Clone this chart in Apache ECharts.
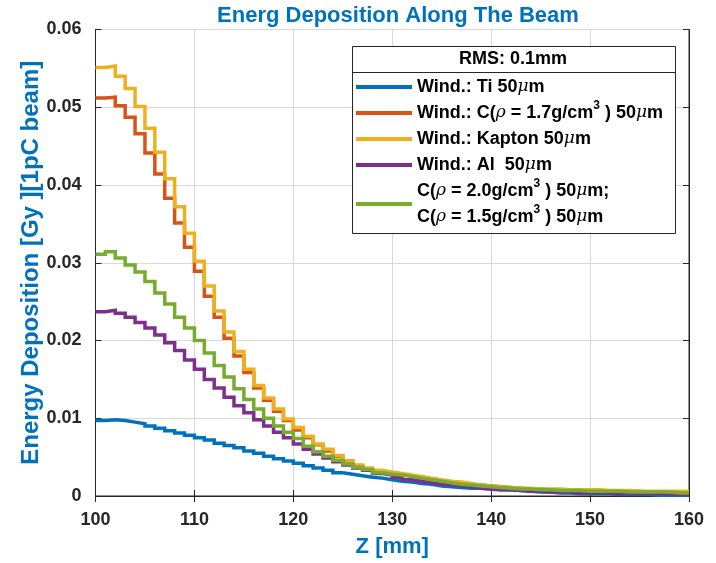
<!DOCTYPE html>
<html>
<head>
<meta charset="utf-8">
<script src="https://cdn.jsdelivr.net/npm/echarts@6/dist/echarts.min.js"></script>
<style>
  html, body { margin: 0; padding: 0; background: #fff; }
  #chart { width: 716px; height: 563px; }
</style>
</head>
<body>
<div id="chart"></div>
<script>
// Energy deposition per 1 mm bin along z (bins start at 100 mm)
const binStart = 100;
const binWidth = 1;

const tickZ = [100, 110, 120, 130, 140, 150, 160];
const tickDose = [0, 0.01, 0.02, 0.03, 0.04, 0.05, 0.06];

const seriesNames = [
  'Wind.: Ti 50um',
  'Wind.: C 1.7 50um',
  'Wind.: Kapton 50um',
  'Wind.: Al 50um',
  'C 2.0 / C 1.5 50um'
];

const legendLabels = [
  'Wind.: Ti 50{g|μ}m',
  'Wind.: C({g|ρ} = 1.7g/cm{s|3} ) 50{g|μ}m',
  'Wind.: Kapton 50{g|μ}m',
  'Wind.: Al  50{g|μ}m',
  'C({g|ρ} = 2.0g/cm{s|3} ) 50{g|μ}m;\nC({g|ρ} = 1.5g/cm{s|3} ) 50{g|μ}m'
];

const colors = ['#0072BD', '#D95319', '#EDB120', '#7E2F8E', '#77AC30'];

const doseTi = [
  0.0097, 0.0098, 0.0097, 0.0095, 0.0093, 0.0090, 0.0087, 0.0084, 0.0081, 0.0078,
  0.0075, 0.0072, 0.0068, 0.0065, 0.0062, 0.0058, 0.0055, 0.0051, 0.0048, 0.0045,
  0.0042, 0.0039, 0.0036, 0.0033, 0.0030, 0.0028, 0.0026, 0.0024, 0.0023, 0.0021,
  0.0019, 0.0018, 0.0016, 0.0015, 0.0013, 0.0012, 0.0011, 0.0010, 0.0010, 0.0009,
  0.0008, 0.0008, 0.0007, 0.0006, 0.0005, 0.0005, 0.0004, 0.0004, 0.0003, 0.0003,
  0.0003, 0.0003, 0.0002, 0.0002, 0.0002, 0.0002, 0.0001, 0.0001, 0.0001, 0.0001
];

const doseC17 = [
  0.0512, 0.0513, 0.0502, 0.0487, 0.0466, 0.0441, 0.0414, 0.0383, 0.0351, 0.0320,
  0.0289, 0.0257, 0.0230, 0.0203, 0.0180, 0.0159, 0.0139, 0.0123, 0.0109, 0.0097,
  0.0085, 0.0075, 0.0066, 0.0058, 0.0051, 0.0045, 0.0039, 0.0035, 0.0032, 0.0030,
  0.0028, 0.0026, 0.0024, 0.0022, 0.0020, 0.0018, 0.0017, 0.0015, 0.0014, 0.0013,
  0.0012, 0.0011, 0.0010, 0.0009, 0.0009, 0.0008, 0.0008, 0.0008, 0.0007, 0.0007,
  0.0007, 0.0006, 0.0006, 0.0006, 0.0006, 0.0005, 0.0005, 0.0005, 0.0005, 0.0005
];

const doseKapton = [
  0.0551, 0.0553, 0.0540, 0.0524, 0.0501, 0.0473, 0.0442, 0.0408, 0.0372, 0.0338,
  0.0302, 0.0270, 0.0238, 0.0211, 0.0186, 0.0163, 0.0142, 0.0126, 0.0112, 0.0099,
  0.0088, 0.0077, 0.0067, 0.0060, 0.0052, 0.0045, 0.0040, 0.0036, 0.0033, 0.0031,
  0.0029, 0.0027, 0.0025, 0.0023, 0.0021, 0.0019, 0.0018, 0.0016, 0.0014, 0.0013,
  0.0012, 0.0011, 0.0010, 0.0010, 0.0009, 0.0009, 0.0009, 0.0008, 0.0008, 0.0008,
  0.0008, 0.0007, 0.0007, 0.0007, 0.0006, 0.0006, 0.0006, 0.0006, 0.0006, 0.0006
];

const doseAl = [
  0.0237, 0.0239, 0.0235, 0.0230, 0.0223, 0.0216, 0.0207, 0.0197, 0.0187, 0.0175,
  0.0163, 0.0150, 0.0139, 0.0127, 0.0116, 0.0107, 0.0098, 0.0090, 0.0082, 0.0075,
  0.0067, 0.0060, 0.0054, 0.0049, 0.0044, 0.0040, 0.0036, 0.0033, 0.0029, 0.0027,
  0.0024, 0.0021, 0.0019, 0.0017, 0.0015, 0.0014, 0.0013, 0.0012, 0.0010, 0.0009,
  0.0008, 0.0008, 0.0007, 0.0006, 0.0006, 0.0005, 0.0005, 0.0005, 0.0004, 0.0004,
  0.0004, 0.0004, 0.0003, 0.0003, 0.0003, 0.0003, 0.0003, 0.0002, 0.0002, 0.0002
];

const doseC20 = [
  0.0311, 0.0314, 0.0306, 0.0297, 0.0288, 0.0276, 0.0261, 0.0247, 0.0230, 0.0216,
  0.0200, 0.0184, 0.0168, 0.0153, 0.0138, 0.0124, 0.0112, 0.0100, 0.0090, 0.0082,
  0.0074, 0.0064, 0.0057, 0.0051, 0.0046, 0.0041, 0.0037, 0.0034, 0.0030, 0.0028,
  0.0027, 0.0025, 0.0023, 0.0021, 0.0019, 0.0017, 0.0015, 0.0014, 0.0013, 0.0012,
  0.0011, 0.0010, 0.0009, 0.0009, 0.0008, 0.0008, 0.0007, 0.0007, 0.0007, 0.0006,
  0.0006, 0.0006, 0.0006, 0.0005, 0.0005, 0.0005, 0.0005, 0.0005, 0.0004, 0.0004
];

const allDose = [doseTi, doseC17, doseKapton, doseAl, doseC20];

// stairs: each bin value holds from its left edge to the next edge
function stairPoints(values) {
  const pts = values.map((v, i) => [binStart + i * binWidth, v]);
  pts.push([binStart + values.length * binWidth, values[values.length - 1]]);
  return pts;
}

const font = 'Liberation Sans, Arial, sans-serif';
const axisColor = '#262626';
const gridColor = '#d9d9d9';

const chart = echarts.init(document.getElementById('chart'), null, { renderer: 'canvas' });

const baseX = {
  type: 'value', min: tickZ[0], max: tickZ[tickZ.length - 1], interval: tickZ[1] - tickZ[0]
};
const baseY = {
  type: 'value', min: tickDose[0], max: tickDose[tickDose.length - 1], interval: tickDose[1] - tickDose[0]
};

const option = {
  animation: false,
  backgroundColor: '#ffffff',
  color: colors,
  title: {
    text: 'Energ Deposition Along The Beam',
    left: 393,
    top: 0,
    textAlign: 'center',
    textStyle: { color: '#0072BD', fontFamily: font, fontWeight: 'bold', fontSize: 22 }
  },
  grid: {
    left: 95.5, right: 27, top: 29.5, bottom: 65.5,
    show: true, borderColor: axisColor, borderWidth: 1, backgroundColor: '#fff'
  },
  xAxis: [
    Object.assign({}, baseX, {
      position: 'bottom',
      name: 'Z [mm]',
      nameLocation: 'middle',
      nameGap: 40,
      nameMoveOverlap: false,
      nameTextStyle: { color: '#0072BD', fontFamily: font, fontWeight: 'bold', fontSize: 22 },
      axisLine: { show: true, lineStyle: { color: axisColor, width: 1 } },
      axisTick: { show: true, inside: true, length: 6, lineStyle: { color: axisColor } },
      axisLabel: { color: axisColor, fontFamily: font, fontWeight: 'bold', fontSize: 18, margin: 15 },
      splitLine: { show: true, lineStyle: { color: gridColor, width: 1 } }
    }),
    Object.assign({}, baseX, {
      position: 'top',
      axisLine: { show: true, lineStyle: { color: axisColor, width: 1 } },
      axisTick: { show: true, inside: true, length: 6, lineStyle: { color: axisColor } },
      axisLabel: { show: false },
      splitLine: { show: false }
    })
  ],
  yAxis: [
    Object.assign({}, baseY, {
      position: 'left',
      name: 'Energy Deposition [Gy ][1pC beam]',
      nameLocation: 'middle',
      nameGap: 52,
      nameMoveOverlap: false,
      nameTextStyle: { color: '#0072BD', fontFamily: font, fontWeight: 'bold', fontSize: 24 },
      axisLine: { show: true, lineStyle: { color: axisColor, width: 1 } },
      axisTick: { show: true, inside: true, length: 6, lineStyle: { color: axisColor } },
      axisLabel: {
        color: axisColor, fontFamily: font, fontWeight: 'bold', fontSize: 18, margin: 14,
        formatter: v => (v === 0 ? '0' : v.toFixed(2))
      },
      splitLine: { show: true, lineStyle: { color: gridColor, width: 1 } }
    }),
    Object.assign({}, baseY, {
      position: 'right',
      axisLine: { show: true, lineStyle: { color: axisColor, width: 1 } },
      axisTick: { show: true, inside: true, length: 6, lineStyle: { color: axisColor } },
      axisLabel: { show: false },
      splitLine: { show: false }
    })
  ],
  legend: {
    orient: 'vertical',
    left: 356,
    top: 74,
    z: 60,
    itemGap: 0,
    itemWidth: 56,
    itemHeight: 14,
    padding: 0,
    icon: 'path://M0,5L56,5L56,9L0,9Z',
    data: seriesNames,
    formatter: name => legendLabels[seriesNames.indexOf(name)],
    textStyle: {
      color: '#000', fontFamily: font, fontWeight: 'bold', fontSize: 18, lineHeight: 26,
      rich: {
        g: { fontFamily: 'DejaVu Serif, serif', fontStyle: 'italic', fontWeight: 'normal', fontSize: 17, lineHeight: 26, color: '#000' },
        s: { fontFamily: font, fontWeight: 'bold', fontSize: 12, lineHeight: 14, verticalAlign: 'top', color: '#000' }
      }
    }
  },
  graphic: [
    {
      type: 'rect', z: 50,
      shape: { x: 352.5, y: 46.5, width: 323, height: 187 },
      style: { fill: '#fff', stroke: axisColor, lineWidth: 1 }
    },
    {
      type: 'line', z: 51,
      shape: { x1: 352.5, y1: 72.5, x2: 675.5, y2: 72.5 },
      style: { stroke: axisColor, lineWidth: 1 }
    },
    {
      type: 'text', z: 51,
      x: 513, y: 59,
      style: {
        text: 'RMS: 0.1mm', fill: '#000', font: 'bold 18px ' + font,
        textAlign: 'center', textVerticalAlign: 'middle'
      }
    }
  ],
  series: allDose.map((vals, i) => ({
    name: seriesNames[i],
    type: 'line',
    step: 'end',
    xAxisIndex: 0,
    yAxisIndex: 0,
    symbol: 'none',
    clip: true,
    data: stairPoints(vals),
    lineStyle: { color: colors[i], width: 3.5, join: 'miter' },
    itemStyle: { color: colors[i] },
    z: 2 + i
  }))
};

chart.setOption(option);
</script>
</body>
</html>
